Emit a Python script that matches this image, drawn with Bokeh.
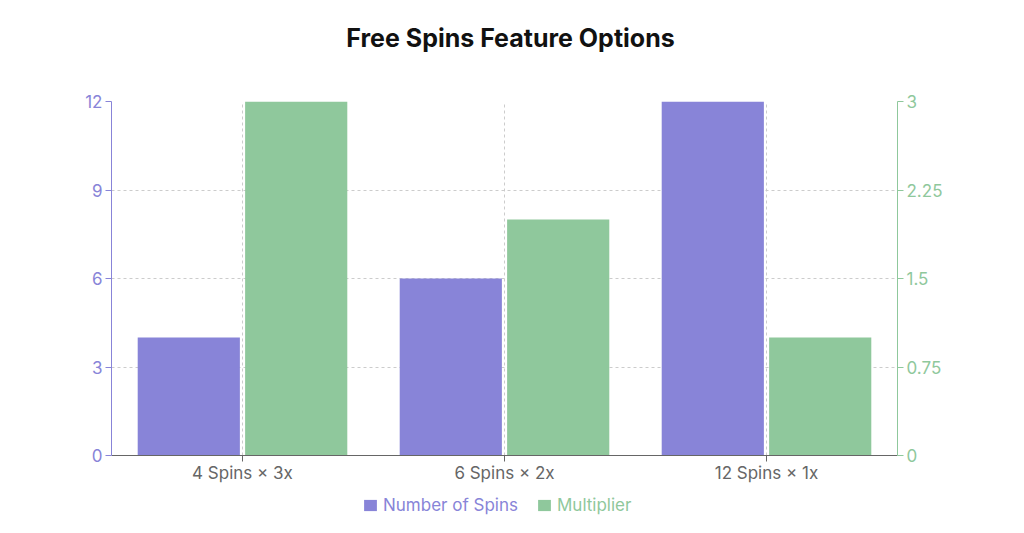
from bokeh.plotting import figure
from bokeh.layouts import column
from bokeh.models import (ColumnDataSource, Range1d, LinearAxis, FixedTicker,
                          Legend, LegendItem, FactorRange, Label)
from bokeh.embed import file_html
from bokeh.resources import INLINE
from bokeh.transform import dodge

title_text = "Free Spins Feature Options"
categories = ["4 Spins × 3x", "6 Spins × 2x", "12 Spins × 1x"]
spins = [4, 6, 12]
multiplier = [3, 2, 1]
left_ticks = [0, 3, 6, 9, 12]
right_ticks = [0, 0.75, 1.5, 2.25, 3]
right_labels = ["0", "0.75", "1.5", "2.25", "3"]
series_names = ["Number of Spins", "Multiplier"]

PURPLE = "#8884d8"
GREEN = "#8fc89c"
FONT = "Inter"
TICK_SIZE = "17px"

src = ColumnDataSource(dict(cat=categories, spins=spins, mult=multiplier))

def strip(h):
    f = figure(width=1008, height=h, x_range=Range1d(0, 1), y_range=Range1d(0, 1),
               output_backend="svg", toolbar_location=None, x_axis_location=None,
               y_axis_location=None, min_border=0, outline_line_color=None)
    f.grid.visible = False
    return f

# title strip
tf = strip(60)
tf.add_layout(Label(x=399, y=23, x_units="screen", y_units="screen", text=title_text,
                    text_align="center", text_baseline="middle", text_font=FONT,
                    text_font_size="25px", text_font_style="bold",
                    text_color="#111111"))

p = figure(width=1008, height=427, x_range=FactorRange(*categories, range_padding=0),
           y_range=Range1d(0, 12), output_backend="svg", toolbar_location=None,
           min_border_left=111, min_border_right=111, min_border_top=41,
           min_border_bottom=32)
p.extra_y_ranges = {"mult": Range1d(0, 3)}
p.outline_line_color = None

r1 = p.vbar(x=dodge("cat", -0.205, range=p.x_range), top="spins", width=0.39,
            source=src, fill_color=PURPLE, line_color=None)
r2 = p.vbar(x=dodge("cat", 0.205, range=p.x_range), top="mult", width=0.39,
            source=src, fill_color=GREEN, line_color=None, y_range_name="mult")

xa = p.xaxis[0]
xa.axis_line_color = "#666666"
xa.major_tick_line_color = "#666666"
xa.major_tick_out = 6
xa.major_tick_in = 0
xa.major_label_text_color = "#666666"
xa.major_label_text_font = FONT
xa.major_label_text_font_size = TICK_SIZE
xa.major_label_standoff = 1

ya = p.yaxis[0]
ya.ticker = FixedTicker(ticks=left_ticks)
ya.axis_line_color = PURPLE
ya.major_tick_line_color = PURPLE
ya.minor_tick_line_color = None
ya.major_tick_out = 6
ya.major_tick_in = 0
ya.major_label_text_color = PURPLE
ya.major_label_text_font = FONT
ya.major_label_text_font_size = TICK_SIZE
ya.major_label_standoff = 3

ra = LinearAxis(y_range_name="mult", ticker=FixedTicker(ticks=right_ticks))
ra.major_label_overrides = {t: l for t, l in zip(right_ticks, right_labels)}
ra.axis_line_color = GREEN
ra.major_tick_line_color = GREEN
ra.minor_tick_line_color = None
ra.major_tick_out = 6
ra.major_tick_in = 0
ra.major_label_text_color = GREEN
ra.major_label_text_font = FONT
ra.major_label_text_font_size = TICK_SIZE
ra.major_label_standoff = 3
p.add_layout(ra, "right")

for g in (p.xgrid[0], p.ygrid[0]):
    g.grid_line_color = "#cccccc"
    g.grid_line_dash = "3 3"
p.ygrid[0].ticker = FixedTicker(ticks=left_ticks)

# legend strip (swatch renderers are zero-size placeholders)
lf = strip(30)
lr1 = lf.vbar(x=[0], top=[0], width=0, fill_color=PURPLE, line_color=None)
lr2 = lf.vbar(x=[0], top=[0], width=0, fill_color=GREEN, line_color=None)

def mk_legend(item_label, rend, color, loc):
    lg = Legend(items=[LegendItem(label=item_label, renderers=[rend])], location=loc,
                orientation="horizontal", glyph_width=16, glyph_height=14,
                label_standoff=5, padding=0, margin=0, border_line_color=None,
                background_fill_alpha=0, label_text_color=color,
                label_text_font=FONT, label_text_font_size=TICK_SIZE, spacing=0)
    lf.add_layout(lg, "center")

mk_legend(series_names[0], lr1, PURPLE, (251, 2))
mk_legend(series_names[1], lr2, GREEN, (425, 2))

layout = column(tf, p, lf, spacing=0)
open("out.html", "w").write(file_html(layout, INLINE))
